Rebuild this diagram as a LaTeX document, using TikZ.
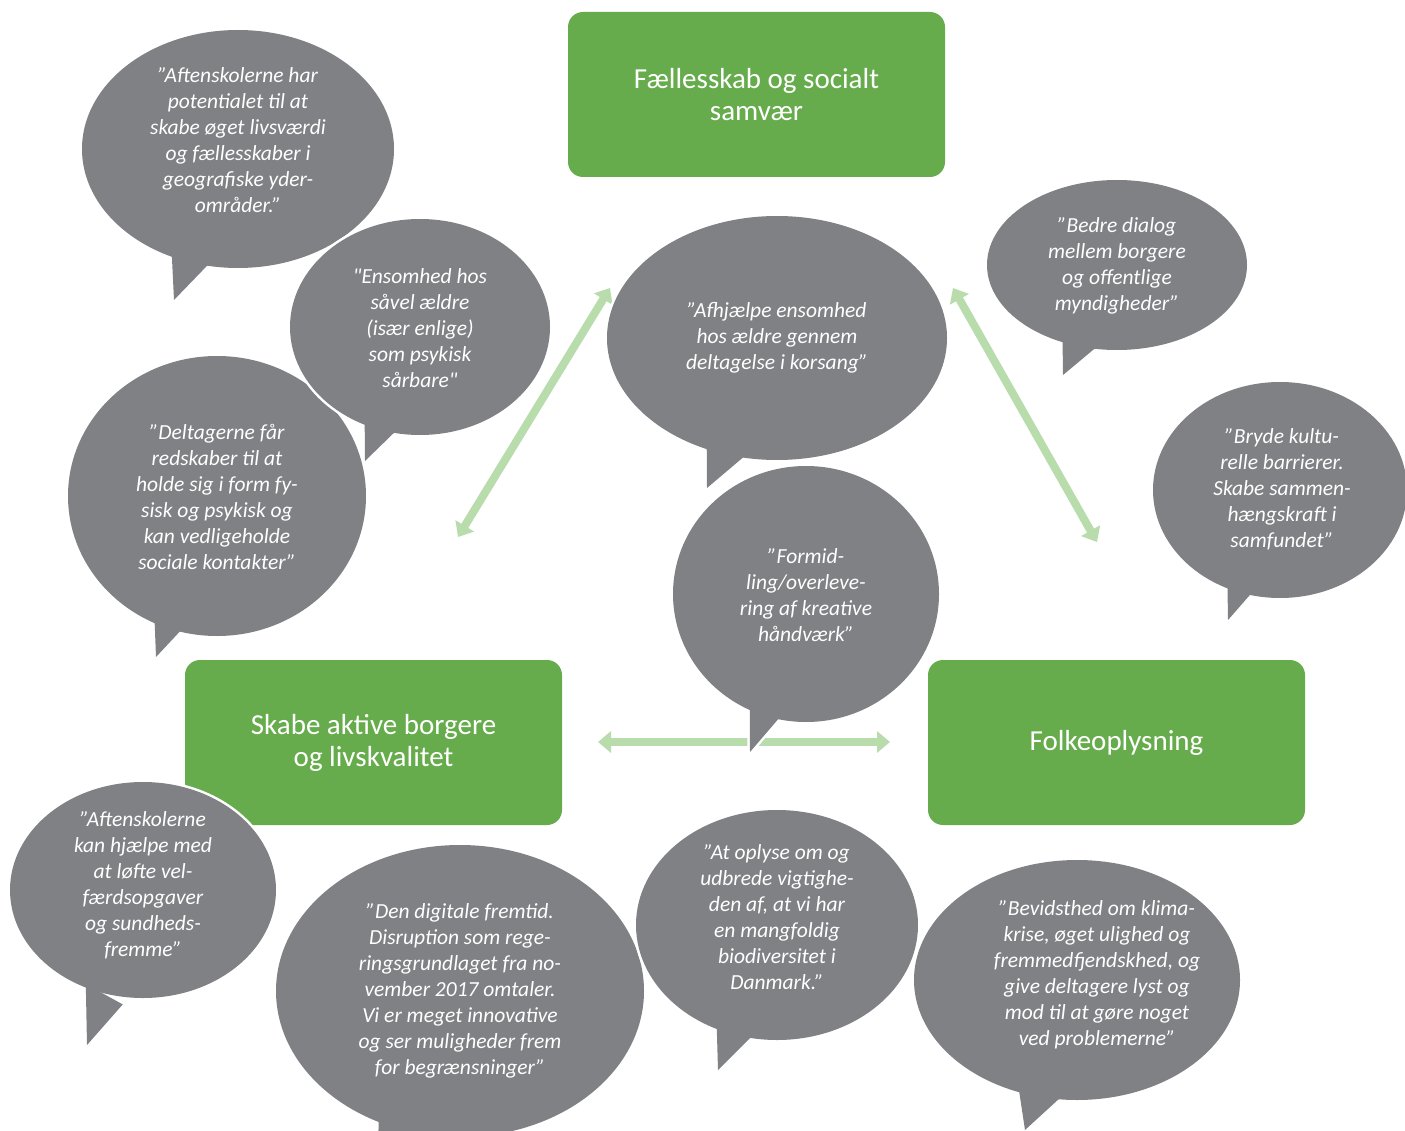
\documentclass[tikz,border=0pt]{standalone}
\usepackage{fontspec}
\setmainfont{Carlito}[Ligatures=TeXOff]
\usetikzlibrary{arrows.meta,calc}
\definecolor{gboxc}{HTML}{67AC4C}
\definecolor{arrc}{HTML}{B8DCAB}
\definecolor{bubc}{HTML}{808185}
\tikzset{
 gbox/.style={fill=gboxc, rounded corners=15pt, minimum width=377pt, minimum height=165pt, inner sep=0pt, text=white, align=center, font=\fontsize{29}{32}\selectfont},
 btext/.style={text=white, align=center, inner sep=0pt, font=\itshape\fontsize{21.5}{26}\selectfont},
 link/.style={draw=arrc, line width=8pt, {Triangle[width=21pt,length=13pt]}-{Triangle[width=21pt,length=13pt]}},
 bubfill/.style={fill=bubc},
 bubedge/.style={draw=white, line width=5pt, line join=round},
}
% name, centre, rx, ry, tail-left, tail-tip, tail-right
\newcommand\mybubble[7]{%
 \coordinate (#1) at (#2);
 \coordinate (#1l) at ($(#5)!0.12!(#1)$);
 \coordinate (#1t) at (#6);
 \coordinate (#1r) at ($(#7)!0.12!(#1)$);
 \path[bubedge] (#1) ellipse [x radius=#3pt, y radius=#4pt];
 \path[bubedge] (#1l) -- (#1t) -- (#1r) -- cycle;
 \path[bubfill] (#1) ellipse [x radius=#3pt, y radius=#4pt];
 \path[bubfill] (#1l) -- (#1t) -- (#1r) -- cycle;
}
\begin{document}
\begin{tikzpicture}[x=1pt,y=-1pt]
\clip (0,0) rectangle (1405,1131);
\fill[white] (0,0) rectangle (1405,1131);

% green boxes
\node[gbox] (fs) at (756.5,94.5) {Fællesskab og socialt\\samvær};
\node[gbox] (sa) at (373.5,742.5) {Skabe aktive borgere\\og livskvalitet};
\node[gbox] (fo) at (1116.5,742.5) {Folkeoplysning};

% arrows
\coordinate (a1s) at (458,537);
\coordinate (a1e) at (610,288);
\coordinate (a2s) at (953,288);
\coordinate (a2e) at (1097,542);
\coordinate (a3s) at (598,742);
\coordinate (a3e) at (890,742);
\draw[link] (a1s) -- (a1e);
\draw[link] (a2s) -- (a2e);
\draw[link] (a3s) -- (a3e);

% bubbles
\mybubble{b1}{238,149}{156}{119}{162,253}{174,300}{217,267}
\node[btext] (t1) at (238,140) {”Aftenskolerne har\\potentialet til at\\skabe øget livsværdi\\og fællesskaber i\\geografiske yder-\\områder.”};

\mybubble{b3}{217,496}{149}{140}{145,610}{156,657}{200,623}
\node[btext] (t3) at (217,497) {”Deltagerne får\\redskaber til at\\holde sig i form fy-\\sisk og psykisk og\\kan vedligeholde\\sociale kontakter”};

\mybubble{b2}{420,327}{130}{108}{357,422}{365,461}{403,435}
\node[btext] (t2) at (420,328) {"Ensomhed hos\\såvel ældre\\(især enlige)\\som psykisk\\sårbare"};

\mybubble{b4}{777,338}{170}{122}{697,443}{707,488}{757,458}
\node[btext] (t4) at (777,338) {”Afhjælpe ensomhed\\hos ældre gennem\\deltagelse i korsang”};

\mybubble{b5}{1117,265}{130}{85}{1055,343}{1063,375}{1100,353}
\node[btext] (t5) at (1117,266) {”Bedre dialog\\mellem borgere\\og offentlige\\myndigheder”};

\mybubble{b6}{1280,490}{127}{108}{1220,580}{1228,620}{1260,593}
\node[btext] (t6) at (1282,489) {”Bryde kultu-\\relle barrierer.\\Skabe sammen-\\hængskraft i\\samfundet”};

\mybubble{b7}{806,594}{133}{128}{742,706}{750,752}{790,718}
\node[btext] (t7) at (806,595) {”Formid-\\ling/overleve-\\ring af kreative\\håndværk”};

\mybubble{b8}{143,890}{133}{108}{78,997}{87,1045}{120,1020}
\node[btext] (t8) at (143,885) {”Aftenskolerne\\kan hjælpe med\\at løfte vel-\\færdsopgaver\\og sundheds-\\fremme”};

\mybubble{b9}{460,991}{184}{146}{368,1110}{378,1160}{420,1130}
\node[btext] (t9) at (460,991) {”Den digitale fremtid.\\Disruption som rege-\\ringsgrundlaget fra no-\\vember 2017 omtaler.\\Vi er meget innovative\\og ser muligheder frem\\for begrænsninger”};

\mybubble{b10}{777,925}{141}{115}{708,1023}{718,1070}{760,1040}
\node[btext] (t10) at (777,917) {”At oplyse om og\\udbrede vigtighe-\\den af, at vi har\\en mangfoldig\\biodiversitet i\\Danmark.”};

\mybubble{b11}{1077,980}{163}{120}{1008,1085}{1025,1130}{1073,1100}
\node[btext] (t11) at (1097,975) {”Bevidsthed om klima-\\krise, øget ulighed og\\fremmedfjendskhed, og\\give deltagere lyst og\\mod til at gøre noget\\ved problemerne”};
\end{tikzpicture}
\end{document}
